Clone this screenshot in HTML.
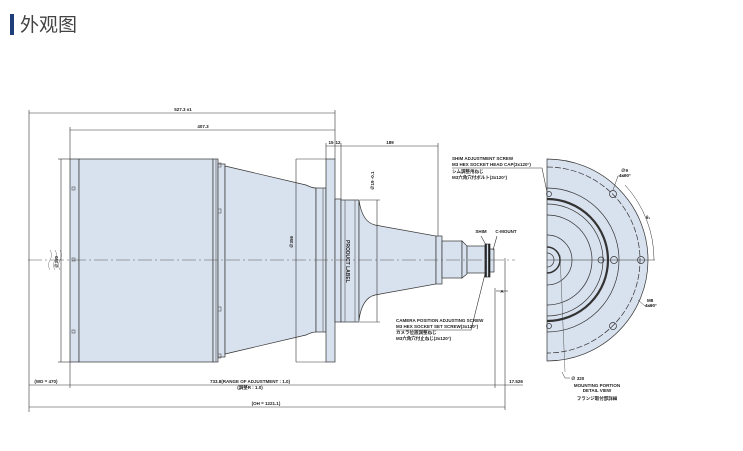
<!DOCTYPE html>
<html><head><meta charset="utf-8"><style>
html,body{margin:0;padding:0;background:#fff;width:743px;height:451px;overflow:hidden}
svg{display:block}
text{font-family:"Liberation Sans","Noto Sans CJK JP",sans-serif;font-weight:bold;fill:#222}
</style></head><body>
<svg width="743" height="451" viewBox="0 0 743 451" xmlns="http://www.w3.org/2000/svg">
<rect x="10" y="14" width="4" height="21" fill="#1f3f7a"/>
<text x="20" y="31" style="font-family:'Liberation Sans','Noto Sans CJK SC',sans-serif;font-weight:normal;font-size:19px;fill:#444">外观图</text>

<g stroke="#333" stroke-width="0.7" fill="#d8e1ee">
<rect x="70" y="159" width="9" height="203"/>
<rect x="79" y="159" width="134" height="203"/>
<rect x="213" y="159" width="5" height="203"/>
<rect x="218" y="164" width="7" height="193"/>
<path d="M225 166 L306 185 Q312 188 316 188 L316 332 Q312 332 306 335 L225 354 Z"/>
<rect x="316" y="188" width="10" height="144"/>
<rect x="326" y="159" width="9" height="203"/>
<rect x="335" y="199" width="6" height="123"/>
<rect x="341" y="200" width="18" height="122"/>
<path d="M359 200 Q362 222 375 225 L436 236 L436 284 L375 295 Q362 298 359 320 Z"/>
<rect x="436" y="236" width="6" height="48"/>
<rect x="442" y="241" width="20" height="37"/>
<path d="M462 241 L467 246 L467 274 L462 278 Z"/>
<rect x="467" y="246" width="18" height="27"/>
<rect x="485" y="244" width="5" height="33" fill="#d8e1ee"/>
<rect x="490" y="249" width="4" height="23"/>
</g>
<g stroke="#111" stroke-width="1.5"><line x1="486" y1="244" x2="486" y2="277"/><line x1="489" y1="244" x2="489" y2="277"/></g>
<g fill="none" stroke="#555" stroke-width="0.6">
<line x1="216" y1="159" x2="216" y2="362"/>
<line x1="323" y1="188" x2="323" y2="332"/>
<line x1="345" y1="200" x2="345" y2="322"/>
<line x1="355" y1="200" x2="355" y2="322"/>
<rect x="72" y="187" width="3" height="3"/><rect x="72" y="258" width="3" height="3"/><rect x="72" y="330" width="3" height="3"/>
<rect x="218" y="209" width="3" height="4"/><rect x="218" y="307" width="3" height="4"/><rect x="218" y="163" width="3" height="4"/><rect x="218" y="354" width="3" height="4"/>
</g>
<!-- center line -->
<line x1="28" y1="260" x2="515" y2="260" stroke="#555" stroke-width="0.5" stroke-dasharray="14,3,2,3"/>
<path d="M50 250 q3 5 0 10 q-3 5 0 10 M55 250 q3 5 0 10 q-3 5 0 10 M60 250 q3 5 0 10 q-3 5 0 10" stroke="#777" stroke-width="0.5" fill="none"/>
<!-- dimensions -->
<g stroke="#333" stroke-width="0.6" fill="none">
<line x1="29" y1="113" x2="335" y2="113"/><line x1="29" y1="110" x2="29" y2="412"/><line x1="335" y1="110" x2="335" y2="159"/>
<line x1="70" y1="130" x2="335" y2="130"/><line x1="70" y1="127" x2="70" y2="159"/>
<line x1="326" y1="143" x2="326" y2="159"/><line x1="341" y1="143" x2="341" y2="199"/>
<line x1="326" y1="146" x2="438" y2="146"/><line x1="438" y1="143" x2="438" y2="236"/>
<line x1="61" y1="159" x2="61" y2="362"/><line x1="58" y1="159" x2="70" y2="159"/><line x1="58" y1="362" x2="70" y2="362"/>
<line x1="296" y1="159" x2="296" y2="362"/><line x1="296" y1="159" x2="326" y2="159"/><line x1="296" y1="362" x2="326" y2="362"/>
<line x1="377" y1="200" x2="377" y2="322"/><line x1="360" y1="200" x2="380" y2="200"/><line x1="360" y1="322" x2="380" y2="322"/>
<line x1="29" y1="385" x2="503" y2="385"/><line x1="70" y1="362" x2="70" y2="388"/>
<line x1="495" y1="288" x2="495" y2="388"/><line x1="505" y1="258" x2="505" y2="410"/>
<line x1="503" y1="385" x2="523" y2="385"/>
<line x1="29" y1="407" x2="505" y2="407"/>
<line x1="496" y1="291" x2="508" y2="291"/>
<!-- leaders -->
<polyline points="396,330 471,330 486,270"/>
<polyline points="452,168 542,168 560,255"/>
<line x1="481" y1="236" x2="486" y2="245"/><line x1="497" y1="236" x2="493" y2="250"/>
</g>
<g font-size="4.5" text-anchor="middle">
<text x="183" y="111">527.3 ±1</text>
<text x="203" y="128">407.3</text>
<text x="331" y="144">15</text><text x="338" y="144">12</text>
<text x="390" y="144">189</text>
<text x="250" y="383">733.8(RANGE OF ADJUSTMENT : 1.0)</text>
<text x="250" y="389">(調整R : 1.0)</text>
<text x="516" y="383">17.526</text>
<text x="46" y="383">(WD = 470)</text>
<text x="266" y="405">(OH = 1221.1)</text>
<text x="481" y="233">SHIM</text><text x="506" y="233">C-MOUNT</text>
<text x="502" y="293">A</text>
</g>
<g font-size="4.5">
<text transform="translate(58,268) rotate(-90)">∅350</text>
<text transform="translate(293,248) rotate(-90)">∅356</text>
<text transform="translate(374,190) rotate(-90)">∅19 -0.1</text>
<text transform="translate(346,240) rotate(90)" font-size="5">PRODUCT LABEL</text>
<text x="396" y="322">CAMERA POSITION ADJUSTING SCREW</text>
<text x="396" y="328">M3 HEX SOCKET SET SCREW(3x120°)</text>
<text x="396" y="334">カメラ位置調整ねじ</text>
<text x="396" y="340">M3六角穴付止ねじ(3x120°)</text>
<text x="452" y="160">SHIM ADJUSTMENT SCREW</text>
<text x="452" y="166">M3 HEX SOCKET HEAD CAP(3x120°)</text>
<text x="452" y="173">シム調整用ねじ</text>
<text x="452" y="179">M3六角穴付ボルト(3x120°)</text>
</g>
<!-- right detail view -->
<g stroke="#333" stroke-width="0.7">
<path d="M547 159 A101 101 0 0 1 547 361 Z" fill="#d8e1ee"/>
<g fill="none">
<path d="M547 167 A93 93 0 0 1 547 353" stroke-dasharray="6,2"/>
<path d="M547 188 A72 72 0 0 1 547 332"/>
<path d="M547 199 A61 61 0 0 1 547 321" stroke-width="2.2"/>
<path d="M547 204 A56 56 0 0 1 547 316"/>
<path d="M547 215 A45 45 0 0 1 547 305"/>
<path d="M547 235 A25 25 0 0 1 547 285"/>
<path d="M547 247 A13 13 0 0 1 547 273" stroke-width="1.5"/>
<path d="M547 253 A7 7 0 0 1 547 267"/>
<line x1="547" y1="260" x2="655" y2="260" stroke-width="0.5"/>
<circle cx="601" cy="260" r="3"/><circle cx="614" cy="260" r="3.5"/><circle cx="641" cy="260" r="3.5"/>
<circle cx="613" cy="194" r="3.5"/><circle cx="613" cy="326" r="3.5"/>
<circle cx="549" cy="194" r="2.5"/><circle cx="549" cy="326" r="2.5"/>
<path d="M625 185 A110 110 0 0 1 654 260" stroke-width="0.5"/>
<polyline points="613,190 618,176 625,176" stroke-width="0.5"/>
<polyline points="638,300 645,306 652,306" stroke-width="0.5"/>
<polyline points="562,372 565,378 570,378" stroke-width="0.5"/>
<line x1="560" y1="255" x2="565" y2="372" stroke-width="0.4"/>
</g>
</g>
<g font-size="4.5">
<text x="621" y="172">∅9</text><text x="619" y="177">4x90°</text>
<text x="646" y="219">θ₁</text>
<text x="647" y="302">M8</text><text x="645" y="307">4x90°</text>
<text x="571" y="380">∅ 320</text>
</g>
<g font-size="4.5" text-anchor="middle">
<text x="597" y="387">MOUNTING PORTION</text>
<text x="597" y="392">DETAIL VIEW</text>
<text x="597" y="400">フランジ取付部詳細</text>
</g>
</svg>
</body></html>
